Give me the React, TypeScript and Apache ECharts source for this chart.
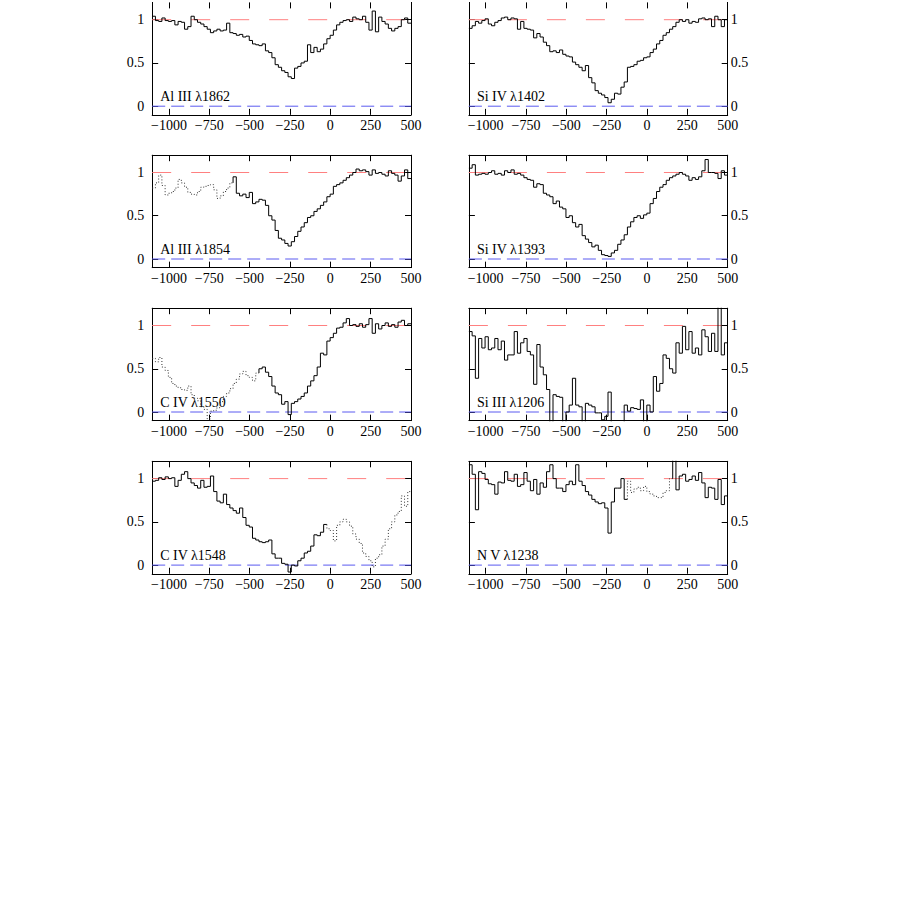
import React, { useEffect, useRef } from "react";
import * as echarts from "echarts";

// Velocity grid (km/s): bins 20 km/s wide starting at the left plot edge
const X_MIN = -1104;
const X_MAX = 500;
const Y_MIN = -0.1;
const Y_MAX = 1.2;
const X_TICKS = [-1000, -750, -500, -250, 0, 250, 500];
const Y_TICKS = [0, 0.5, 1];

// Normalised flux per bin (80 bins)
const alIII1862 = [
  1.04, 0.99, 0.98, 1.02, 0.99, 0.98, 0.99, 0.94, 0.98, 0.97,
  0.89, 0.92, 1.04, 1.0, 0.97, 0.95, 0.92, 0.89, 0.85, 0.87,
  0.89, 0.87, 0.88, 0.96, 0.85, 0.84, 0.82, 0.83, 0.8, 0.81,
  0.76, 0.72, 0.71, 0.7, 0.72, 0.64, 0.62, 0.56, 0.48, 0.45,
  0.41, 0.39, 0.34, 0.32, 0.44, 0.46, 0.5, 0.52, 0.71, 0.62,
  0.68, 0.63, 0.66, 0.72, 0.78, 0.82, 0.88, 0.94, 0.97, 0.99,
  1.0, 0.98, 1.03, 1.01, 1.0, 1.04, 0.97, 0.88, 1.1, 0.86,
  1.03, 0.98, 0.95, 0.9, 0.87, 0.9, 0.92, 1.0, 1.02, 0.96,
];
const siIV1402 = [
  0.9, 0.93, 0.98, 0.96, 0.99, 1.01, 0.95, 0.93, 0.97, 0.99,
  1.02, 1.03, 1.0, 1.02, 1.01, 0.89, 0.98, 0.9, 0.89, 0.88,
  0.79, 0.84, 0.8, 0.74, 0.7, 0.63, 0.64, 0.62, 0.65, 0.6,
  0.58, 0.57, 0.51, 0.48, 0.45, 0.41, 0.47, 0.33, 0.27, 0.18,
  0.15, 0.13, 0.1, 0.04, 0.08, 0.15, 0.14, 0.22, 0.28, 0.45,
  0.46, 0.48, 0.52, 0.53, 0.56, 0.57, 0.62, 0.66, 0.72, 0.76,
  0.82, 0.85, 0.89, 0.92, 0.97, 1.0, 0.98, 1.0, 0.96, 0.98,
  0.97, 1.01, 1.02, 1.0, 1.01, 0.92, 1.04, 1.0, 0.92, 1.0,
];
const alIII1854 = [
  0.82, 0.88, 0.97, 0.85, 0.74, 0.76, 0.78, 0.82, 0.92, 0.88,
  0.83, 0.77, 0.75, 0.74, 0.78, 0.83, 0.84, 0.85, 0.86, 0.8,
  0.7, 0.73, 0.78, 0.82, 0.88, 0.95, 0.76, 0.73, 0.75, 0.71,
  0.77, 0.64, 0.66, 0.69, 0.68, 0.62, 0.5, 0.45, 0.33, 0.24,
  0.22, 0.18, 0.15, 0.2, 0.26, 0.32, 0.37, 0.42, 0.48, 0.5,
  0.55, 0.58, 0.62, 0.66, 0.72, 0.75, 0.84, 0.86, 0.88, 0.91,
  0.94, 0.97, 1.0, 1.04, 1.02, 1.03, 1.01, 0.97, 1.03, 0.99,
  1.0, 0.98, 0.96, 1.02, 0.99, 0.97, 0.9, 0.96, 1.03, 0.93,
];
const siIV1393 = [
  1.05, 1.09, 0.97, 0.98, 0.99, 0.98, 1.0, 1.02, 0.98, 0.99,
  0.97, 1.02, 1.0, 1.03, 0.98, 0.99, 0.97, 0.94, 0.92, 0.91,
  0.83, 0.87, 0.86, 0.76, 0.74, 0.72, 0.64, 0.67, 0.6, 0.58,
  0.48, 0.5, 0.42, 0.37, 0.4, 0.27, 0.23, 0.19, 0.14, 0.16,
  0.1, 0.05, 0.04, 0.03, 0.07, 0.1, 0.17, 0.22, 0.28, 0.37,
  0.43, 0.48, 0.5, 0.47, 0.51, 0.53, 0.64, 0.7, 0.78, 0.83,
  0.86, 0.91, 0.94, 0.96, 0.98, 1.0, 0.98, 0.96, 0.91, 0.94,
  0.92, 0.95, 1.02, 1.15, 1.0, 1.0, 0.99, 0.93, 1.02, 0.97,
];
const cIV1550 = [
  0.62, 0.58, 0.63, 0.52, 0.48, 0.4, 0.33, 0.3, 0.28, 0.26,
  0.25, 0.3, 0.2, 0.16, 0.13, 0.06, 0.03, -0.08, 0.01, 0.02,
  0.05, 0.12, 0.18, 0.22, 0.27, 0.33, 0.38, 0.44, 0.47, 0.42,
  0.4, 0.36, 0.45, 0.5, 0.52, 0.46, 0.41, 0.3, 0.22, 0.2,
  0.09, 0.12, -0.03, 0.1, 0.12, 0.15, 0.18, 0.22, 0.3, 0.36,
  0.42, 0.52, 0.68, 0.66, 0.82, 0.86, 0.91, 0.97, 0.98, 1.03,
  1.08, 1.0, 1.01, 0.99, 1.02, 0.98, 1.01, 1.08, 0.91, 1.02,
  0.96, 1.0, 1.03, 0.99, 1.01, 0.98, 1.04, 1.06, 1.0, 1.02,
];
const siIII1206 = [
  0.93, 0.88, 0.39, 0.85, 0.74, 0.87, 0.72, 0.74, 0.85, 0.72,
  0.82, 0.6, 0.66, 0.66, 0.93, 0.68, 0.8, 0.85, 0.7, 0.66,
  0.32, 0.78, 0.52, 0.43, 0.26, -0.12, 0.2, 0.18, 0.17, -0.15,
  0.0, 0.08, 0.39, 0.08, 0.06, -0.15, 0.1, 0.08, 0.06, -0.01,
  -0.01, -0.09, -0.05, 0.23, -0.15, -0.15, -0.15, -0.15, 0.08, 0.01,
  0.05, 0.04, 0.03, 0.14, -0.15, 0.08, 0.0, 0.41, 0.24, 0.33,
  0.66, 0.62, 0.5, 0.45, 0.8, 0.68, 0.99, 0.72, 0.93, 0.68,
  0.74, 0.66, 0.95, 0.87, 0.7, 0.91, 0.7, 1.3, 0.66, 0.8,
];
const cIV1548 = [
  0.97, 0.98, 1.01, 0.99, 1.02, 1.0, 1.01, 0.91, 0.98, 1.05,
  1.08, 1.0, 0.95, 0.92, 0.89, 0.98, 0.9, 0.91, 1.03, 0.85,
  0.74, 0.72, 0.82, 0.7, 0.66, 0.63, 0.6, 0.66, 0.55, 0.46,
  0.44, 0.31, 0.29, 0.27, 0.26, 0.27, 0.29, 0.13, 0.08, 0.08,
  0.02, 0.01, -0.08, 0.0, -0.01, 0.05, 0.08, 0.14, 0.16, 0.22,
  0.35, 0.34, 0.38, 0.47, 0.42, 0.4, 0.28, 0.46, 0.5, 0.53,
  0.5, 0.45, 0.36, 0.3, 0.25, 0.14, 0.1, 0.05, -0.02, 0.08,
  0.12, 0.22, 0.3, 0.42, 0.5, 0.58, 0.62, 0.8, 0.68, 0.85,
];
const nV1238 = [
  1.16, 1.05, 0.64, 1.08, 1.06, 0.99, 0.94, 0.93, 0.82, 0.96,
  0.95, 1.08, 0.98, 0.97, 1.05, 0.91, 0.93, 1.07, 0.97, 0.86,
  0.99, 0.82, 0.95, 0.9, 1.08, 1.16, 1.0, 0.89, 0.89, 0.85,
  0.93, 0.97, 0.93, 1.16, 0.97, 0.92, 0.85, 0.81, 0.76, 0.73,
  0.71, 0.72, 0.66, 0.37, 0.73, 0.89, 0.89, 1.0, 0.76, 0.97,
  0.84, 0.88, 0.9, 0.86, 0.91, 0.85, 0.82, 0.8, 0.78, 0.78,
  0.84, 0.86, 1.0, 1.3, 0.87, 1.03, 1.05, 0.97, 0.99, 1.03,
  0.98, 1.07, 0.95, 0.78, 0.9, 0.89, 0.76, 0.99, 0.7, 0.8,
];

// Segments: [firstBin, lastBin, dotted(blended)]
type Seg = [number, number, boolean];
const panels: { label: string; values: number[]; segs: Seg[]; col: number; row: number }[] = [
  { label: "Al III λ1862", values: alIII1862, segs: [[0, 79, false]], col: 0, row: 0 },
  { label: "Si IV λ1402", values: siIV1402, segs: [[0, 79, false]], col: 1, row: 0 },
  { label: "Al III λ1854", values: alIII1854, segs: [[0, 24, true], [25, 79, false]], col: 0, row: 1 },
  { label: "Si IV λ1393", values: siIV1393, segs: [[0, 79, false]], col: 1, row: 1 },
  { label: "C IV λ1550", values: cIV1550, segs: [[0, 32, true], [33, 79, false]], col: 0, row: 2 },
  { label: "Si III λ1206", values: siIII1206, segs: [[0, 79, false]], col: 1, row: 2 },
  { label: "C IV λ1548", values: cIV1548, segs: [[0, 53, false], [54, 79, true]], col: 0, row: 3 },
  { label: "N V λ1238", values: nV1238, segs: [[0, 48, false], [49, 62, true], [63, 79, false]], col: 1, row: 3 },
];

const BIN_W = (X_MAX - X_MIN) / 80;
const edge = (i: number) => X_MIN + BIN_W * i;

const GRID_LEFT = [152.2, 468.9];
const GRID_W = 258.8;
const GRID_TOP = [2.4, 155.2, 308.2, 461.3];
const GRID_H = 112.45;
const FONT = "Liberation Serif";

const fmtX = (v: number) => (v < 0 ? "\u2212" + Math.abs(v) : String(v));

export default function App() {
  const ref = useRef<HTMLDivElement>(null);
  useEffect(() => {
    if (!ref.current) return;
    const chart = echarts.init(ref.current, null, { renderer: "svg" });
    const grid: any[] = [];
    const xAxis: any[] = [];
    const yAxis: any[] = [];
    const series: any[] = [];
    const graphic: any[] = [];
    const black = { color: "#000", width: 1 };

    panels.forEach((p, k) => {
      const left = GRID_LEFT[p.col];
      const top = GRID_TOP[p.row];
      grid.push({ left, top, width: GRID_W, height: GRID_H, containLabel: false });
      const xb = xAxis.length;
      xAxis.push({
        type: "value", gridIndex: k, position: "bottom", min: X_MIN, max: X_MAX,
        axisLine: { show: true, onZero: false, lineStyle: black },
        axisTick: { show: true, inside: true, length: 6, customValues: X_TICKS, lineStyle: black },
        axisLabel: { show: true, customValues: X_TICKS, formatter: fmtX, fontFamily: FONT, fontSize: 14, color: "#000", margin: 4 },
        splitLine: { show: false },
      });
      xAxis.push({
        type: "value", gridIndex: k, position: "top", min: X_MIN, max: X_MAX,
        axisLine: { show: p.row !== 0, onZero: false, lineStyle: black },
        axisTick: { show: true, inside: true, length: 6, customValues: X_TICKS, lineStyle: black },
        axisLabel: { show: false },
        splitLine: { show: false },
      });
      const yl = yAxis.length;
      [
        ["left", p.col === 0],
        ["right", p.col === 1],
      ].forEach(([pos, lab]) => {
        yAxis.push({
          type: "value", gridIndex: k, position: pos, min: Y_MIN, max: Y_MAX,
          axisLine: { show: true, onZero: false, lineStyle: black },
          axisTick: { show: true, inside: true, length: 6, customValues: Y_TICKS, lineStyle: black },
          axisLabel: { show: lab, customValues: Y_TICKS, fontFamily: FONT, fontSize: 14, color: "#000", margin: pos === "left" ? 8 : 3 },
          splitLine: { show: false },
        });
      });
      const base = { type: "line", xAxisIndex: xb, yAxisIndex: yl, symbol: "none", silent: true, clip: true };
      series.push({
        ...base, z: 1,
        data: [[X_MIN, 1], [X_MAX, 1]],
        lineStyle: { color: "#ff8080", width: 1, type: [19, 20] },
      });
      series.push({
        ...base, z: 1,
        data: [[X_MIN, 0], [X_MAX, 0]],
        lineStyle: { color: "#5a5af0", width: 1, type: [13, 6] },
      });
      p.segs.forEach(([s, e, dotted]) => {
        const pts: number[][] = [];
        if (s > 0) pts.push([edge(s), p.values[s - 1]]);
        for (let i = s; i <= e; i++) pts.push([edge(i), p.values[i]]);
        pts.push([edge(e + 1), p.values[e]]);
        series.push({
          ...base, z: 3, step: "end", data: pts,
          lineStyle: dotted ? { color: "#333", width: 1, type: [1, 2] } : { color: "#000", width: 1 },
        });
      });
      graphic.push({
        type: "text",
        x: left + (p.col === 0 ? 8 : 8),
        y: top + (Y_MAX - 0) * (GRID_H / (Y_MAX - Y_MIN)) - 9.5,
        z: 2,
        style: { text: p.label, fontFamily: FONT, fontSize: 14, fill: "#000", verticalAlign: "middle", align: "left" },
      });
    });

    chart.setOption({
      animation: false,
      backgroundColor: "#fff",
      grid, xAxis, yAxis, series, graphic,
    });
    return () => chart.dispose();
  }, []);
  return <div ref={ref} style={{ position: "fixed", left: 0, top: 0, width: 899, height: 899 }} />;
}
